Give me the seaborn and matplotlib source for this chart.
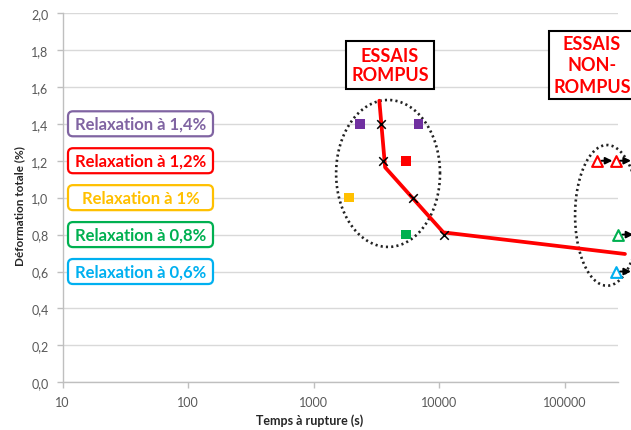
import matplotlib
matplotlib.use("Agg")
import matplotlib.pyplot as plt
import matplotlib.ticker as mticker
import numpy as np
import pandas as pd
import seaborn as sns
from matplotlib.patches import FancyBboxPatch
from matplotlib.transforms import IdentityTransform

VIOLET = "#7030A0"
LAVANDE = "#8064A2"
ROUGE = "#FF0000"
JAUNE = "#FFC000"
VERT = "#00B050"
BLEU = "#00B0F0"
GRIS = "#595959"

# essais rompus (carres)
rompus_temps = [2345, 6840, 5460, 1918, 5460]
rompus_def = [1.4, 1.4, 1.2, 1.0, 0.8]
rompus_couleur = [VIOLET, VIOLET, ROUGE, JAUNE, VERT]

# croix noires
croix_temps = [3430, 3600, 6150, 10960]
croix_def = [1.4, 1.2, 1.0, 0.8]

# courbe rouge
courbe_temps = [3345, 3720, 10820, 303000]
courbe_def = [1.525, 1.164, 0.812, 0.695]

# essais non rompus (triangles)
non_rompus_temps = [182500, 257000, 268000, 257000]
non_rompus_def = [1.2, 1.2, 0.8, 0.6]
non_rompus_couleur = [ROUGE, ROUGE, VERT, BLEU]

# etiquettes des niveaux de relaxation
relax_niveaux = [1.4, 1.2, 1.0, 0.8, 0.6]
relax_labels = ["Relaxation à 1,4%", "Relaxation à 1,2%", "Relaxation à 1%",
                "Relaxation à 0,8%", "Relaxation à 0,6%"]
relax_couleurs = [LAVANDE, ROUGE, JAUNE, VERT, BLEU]

x_ticks = [10, 100, 1000, 10000, 100000]
y_ticks = [0.0, 0.2, 0.4, 0.6, 0.8, 1.0, 1.2, 1.4, 1.6, 1.8, 2.0]

sns.set_style("white")
plt.rcParams["font.family"] = ["Lato", "DejaVu Sans"]

W, H = 631, 431
fig = plt.figure(figsize=(W / 100, H / 100), dpi=100)
ax = fig.add_axes([62.5 / W, 47.7 / H, 555.5 / W, 369.3 / H])

df_rompus = pd.DataFrame({"temps": rompus_temps, "def": rompus_def, "c": rompus_couleur})
sns.scatterplot(data=df_rompus, x="temps", y="def", hue="c",
                palette={c: c for c in set(rompus_couleur)},
                marker="s", s=48, linewidth=0, legend=False, ax=ax, zorder=4)

sns.scatterplot(x=croix_temps, y=croix_def, marker="x", color="black",
                s=38, linewidth=1.1, ax=ax, zorder=5)

sns.lineplot(x=courbe_temps, y=courbe_def, sort=False, estimator=None,
             color=ROUGE, lw=2.7, ax=ax, zorder=3, clip_on=False)

for t, d, c in zip(non_rompus_temps, non_rompus_def, non_rompus_couleur):
    sns.scatterplot(x=[t], y=[d], marker="^", facecolor="white", edgecolor=c,
                    s=60, linewidth=1.5, ax=ax, zorder=5, clip_on=False)
    ax.annotate("", xy=(t * 10 ** 0.12, d), xytext=(t * 10 ** 0.035, d),
                arrowprops=dict(arrowstyle="-|>", color="black", lw=1.4,
                                mutation_scale=10, shrinkA=0, shrinkB=0),
                annotation_clip=False, zorder=6)

# ellipses pointillees (en decades pour x)
theta = np.linspace(0, 2 * np.pi, 300)
for cx, a, cy, b in [(3.594, 0.414, 1.131, 0.398), (5.339, 0.255, 0.904, 0.381)]:
    ax.plot(10 ** (cx + a * np.cos(theta)), cy + b * np.sin(theta),
            color="#222222", lw=1.9, ls=(0, (0.8, 1.2)), clip_on=False, zorder=2)

ax.set_xscale("log")
ax.set_xlim(10, 266700)
ax.set_ylim(0, 2)
ax.xaxis.set_major_locator(mticker.FixedLocator(x_ticks))
ax.xaxis.set_major_formatter(mticker.FixedFormatter([str(v) for v in x_ticks]))
ax.xaxis.set_minor_locator(mticker.LogLocator(base=10, subs=np.arange(2, 10)))
ax.xaxis.set_minor_formatter(mticker.NullFormatter())
ax.set_yticks(y_ticks)
ax.set_yticklabels([f"{v:.1f}".replace(".", ",") for v in y_ticks])

ax.yaxis.grid(True, color="#D9D9D9", lw=1)
ax.xaxis.grid(False)
for side in ["top", "right"]:
    ax.spines[side].set_visible(False)
for side in ["left", "bottom"]:
    ax.spines[side].set_color("#BFBFBF")
    ax.spines[side].set_linewidth(1)

ax.tick_params(axis="both", which="major", direction="out", length=4,
               width=1, color="#BFBFBF", labelcolor=GRIS, labelsize=9, pad=6)
ax.tick_params(axis="x", which="minor", direction="out", length=2.5,
               width=1, color="#BFBFBF")
ax.tick_params(axis="x", which="major", bottom=True)
ax.tick_params(axis="y", which="major", left=True)

ax.set_xlabel("Temps à rupture (s)", fontsize=9, fontweight="bold", color="#262626")
ax.set_ylabel("Déformation totale (%)", fontsize=8.5, fontweight="bold", color="#262626")
ax.xaxis.set_label_coords(0.4455, -0.085)
ax.yaxis.set_label_coords(-0.067, 0.48)

# cadres ESSAIS
ax.text(390, H - 66, "ESSAIS\nROMPUS", transform=IdentityTransform(),
        ha="center", va="center", fontsize=13, fontweight="bold", color=ROUGE,
        linespacing=1.2, zorder=7,
        bbox=dict(boxstyle="square,pad=0.3", fc="white", ec="black", lw=1.5))
ax.text(592, H - 66, "ESSAIS\nNON-\nROMPUS", transform=IdentityTransform(),
        ha="center", va="center", fontsize=13, fontweight="bold", color=ROUGE,
        linespacing=1.3, zorder=7,
        bbox=dict(boxstyle="square,pad=0.25", fc="white", ec="black", lw=1.5))

# etiquettes de relaxation (cadres arrondis)
for niv, lab, col in zip(relax_niveaux, relax_labels, relax_couleurs):
    yc = ax.transData.transform((10, niv))[1]
    box = FancyBboxPatch((68, yc - 12.5), 145, 25,
                         boxstyle="round,pad=0,rounding_size=5",
                         transform=IdentityTransform(), fc="white", ec=col, lw=1.6,
                         zorder=8)
    fig.add_artist(box)
    fig.text(140.5, yc, lab, transform=IdentityTransform(), ha="center",
             va="center", fontsize=12, fontweight="bold", color=col, zorder=9)

fig.savefig("out.png", dpi=100)
